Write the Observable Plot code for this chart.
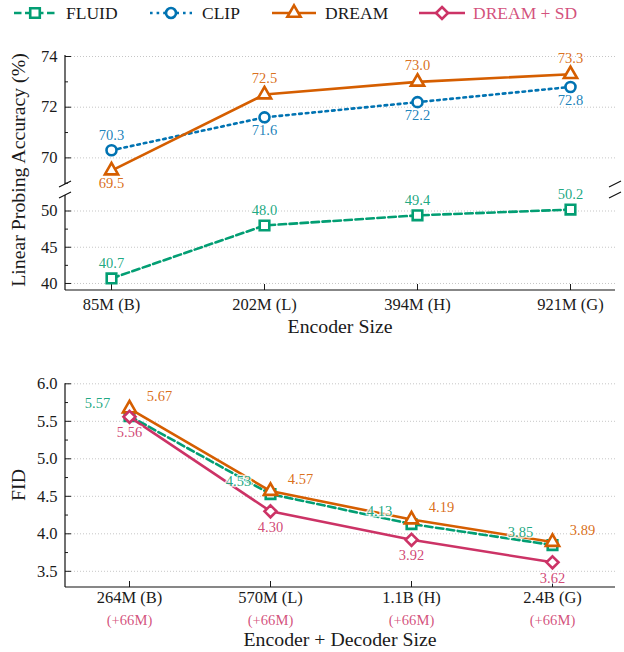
<!DOCTYPE html>
<html><head><meta charset="utf-8">
<script src="https://cdn.jsdelivr.net/npm/d3@7"></script>
<script src="https://cdn.jsdelivr.net/npm/@observablehq/plot@0.6"></script>
<style>
body{margin:0;background:#fff;}
#chart{position:relative;width:624px;height:652px;font-family:"Liberation Serif","Times New Roman",serif;color:#1a1a1a;overflow:hidden;background:#fff;}
#chart svg{position:absolute;left:0;}
.t{position:absolute;white-space:nowrap;line-height:1;transform:translate(-50%,-50%);}
</style></head><body><div id="chart"></div>
<script>
// ---------- data ----------
const encoderSizes = ["85M (B)", "202M (L)", "394M (H)", "921M (G)"];
const probeFluid = [40.7, 48.0, 49.4, 50.2];
const probeClip  = [70.3, 71.6, 72.2, 72.8];
const probeDream = [69.5, 72.5, 73.0, 73.3];

const encDecSizes  = ["264M (B)", "570M (L)", "1.1B (H)", "2.4B (G)"];
const decoderExtra = ["(+66M)", "(+66M)", "(+66M)", "(+66M)"];
const fidFluid   = [5.57, 4.53, 4.13, 3.85];
const fidDream   = [5.67, 4.57, 4.19, 3.89];
const fidDreamSD = [5.56, 4.30, 3.92, 3.62];

const upperTicks = [70, 72, 74];
const upperMinor = [69, 71, 73];
const lowerTicks = [40, 45, 50];
const lowerMinor = [42.5, 47.5];
const fidTicks = [3.5, 4.0, 4.5, 5.0, 5.5, 6.0];
const fidMinor = [3.75, 4.25, 4.75, 5.25, 5.75];

const legendNames = ["FLUID", "CLIP", "DREAM", "DREAM + SD"];

// ---------- styles ----------
const FONT = '"Liberation Serif","Times New Roman",serif';
const COL = {fluid: "#029E73", clip: "#0173B2", dream: "#D55E00", sd: "#CC3366"};
const LW = 2.6;
const S = {
  fluid: {color: COL.fluid, dash: "7.5,3.5", symbol: "square", r: 5.4},
  clip:  {color: COL.clip,  dash: "2.6,4",   symbol: "circle", r: 5},
  dream: {color: COL.dream, dash: null,      symbol: "triangle", r: 4.9},
  sd:    {color: COL.sd,    dash: null,      symbol: "diamond2", r: 5.4}
};
const baseStyle = {fontFamily: FONT, fontSize: "16.5px", color: "#1a1a1a", background: "transparent", overflow: "visible"};
const gridOpts = {stroke: "#999", strokeOpacity: 0.7, strokeDasharray: "1,2", strokeWidth: 0.8};

const rows = (cats, vals, digits) => cats.map((c, i) => ({x: c, y: vals[i], i, label: vals[i].toFixed(digits)}));

function seriesMarks(data, st) {
  const lineOpts = {x: "x", y: "y", stroke: st.color, strokeWidth: LW};
  if (st.dash) lineOpts.strokeDasharray = st.dash;
  return [
    Plot.line(data, lineOpts),
    Plot.dot(data, {x: "x", y: "y", symbol: st.symbol, r: st.r, stroke: st.color, strokeWidth: LW, fill: "white"})
  ];
}
function labelMark(data, st, opts) {
  return Plot.text(data, {x: "x", y: "y", text: "label", fill: st.color, fillOpacity: 0.9,
    stroke: "white", strokeOpacity: 0.75, strokeWidth: 3, fontSize: 14.5, lineAnchor: "middle", ...opts});
}

const chart = document.getElementById("chart");
const L = 65, R = 9; // frame left / right margins

function place(svg, top) { svg.style.top = top + "px"; chart.appendChild(svg); return svg; }
function spine(svg, x1, y1, x2, y2) {
  d3.select(svg).append("line").attr("x1", x1).attr("y1", y1).attr("x2", x2).attr("y2", y2)
    .attr("stroke", "#111").attr("stroke-width", 1.2);
}
function breakMark(svg, x, y) {
  d3.select(svg).append("line").attr("x1", x - 6).attr("y1", y + 3).attr("x2", x + 6).attr("y2", y - 3)
    .attr("stroke", "#111").attr("stroke-width", 1.2);
}

// ---------- panel A : upper part of broken axis ----------
const clipRows = rows(encoderSizes, probeClip, 1);
const dreamRows = rows(encoderSizes, probeDream, 1);
const fluidRows = rows(encoderSizes, probeFluid, 1);

const A_H = 170, A_MT = 25, A_MB = 16;
const A = Plot.plot({
  width: 624, height: A_H, marginTop: A_MT, marginBottom: A_MB, marginLeft: L, marginRight: R,
  style: baseStyle,
  x: {type: "point", domain: encoderSizes, padding: 0.286, axis: null},
  y: {domain: [68.95, 74.04], axis: null, label: null},
  marks: [
    Plot.gridY(upperTicks, gridOpts),
    Plot.axisY(upperMinor, {tickSize: -3, tickFormat: () => "", label: null}),
    Plot.axisY(upperTicks, {tickSize: -6, tickPadding: 14, tickFormat: d => String(d), label: null}),
    ...seriesMarks(clipRows, S.clip),
    ...seriesMarks(dreamRows, S.dream),
    labelMark(clipRows, S.clip, {filter: d => d.i === 0, dy: -15}),
    labelMark(clipRows, S.clip, {filter: d => d.i > 0, dy: 13}),
    labelMark(dreamRows, S.dream, {filter: d => d.i === 0, dy: 13}),
    labelMark(dreamRows, S.dream, {filter: d => d.i > 0, dy: -16})
  ]
});
place(A, 30);
spine(A, L, A_MT, L, A_H - A_MB);
breakMark(A, L, A_H - A_MB);
breakMark(A, 624 - R, A_H - A_MB);

// ---------- panel B : lower part of broken axis ----------
const B_H = 150, B_MT = 20, B_MB = 35;
const B = Plot.plot({
  width: 624, height: B_H, marginTop: B_MT, marginBottom: B_MB, marginLeft: L, marginRight: R,
  style: baseStyle,
  x: {type: "point", domain: encoderSizes, padding: 0.286, axis: null},
  y: {domain: [39.03, 52.14], axis: null, label: null},
  marks: [
    Plot.gridY(lowerTicks, gridOpts),
    Plot.axisY(lowerMinor, {tickSize: -3, tickFormat: () => "", label: null}),
    Plot.axisY(lowerTicks, {tickSize: -6, tickPadding: 14, tickFormat: d => String(d), label: null}),
    Plot.axisX({tickSize: -6, tickPadding: 13.4, label: null}),
    ...seriesMarks(fluidRows, S.fluid),
    labelMark(fluidRows, S.fluid, {dy: -15})
  ]
});
place(B, 175);
spine(B, L, B_MT, L, B_H - B_MB);
spine(B, L, B_H - B_MB, 624 - R, B_H - B_MB);
breakMark(B, L, B_MT);
breakMark(B, 624 - R, B_MT);

// ---------- panel C : FID ----------
const fFluid = rows(encDecSizes, fidFluid, 2);
const fDream = rows(encDecSizes, fidDream, 2);
const fSD = rows(encDecSizes, fidDreamSD, 2);
const extraRows = encDecSizes.map((c, i) => ({x: c, extra: decoderExtra[i]}));

const C_H = 300, C_MT = 33.3, C_MB = 63;
const C = Plot.plot({
  width: 624, height: C_H, marginTop: C_MT, marginBottom: C_MB, marginLeft: L, marginRight: R,
  style: baseStyle,
  x: {type: "point", domain: encDecSizes, padding: 0.437, axis: null},
  y: {domain: [3.284, 6.0], axis: null, label: null},
  marks: [
    Plot.gridY(fidTicks, gridOpts),
    Plot.axisY(fidMinor, {tickSize: -3, tickFormat: () => "", label: null}),
    Plot.axisY(fidTicks, {tickSize: -6, tickPadding: 14, tickFormat: d => d.toFixed(1), label: null}),
    Plot.axisX({tickSize: -6, tickPadding: 9.5, label: null}),
    Plot.text(extraRows, {x: "x", text: "extra", frameAnchor: "bottom", dy: 33, lineAnchor: "middle",
      fill: COL.sd, fillOpacity: 0.85, fontSize: 14.6}),
    ...seriesMarks(fFluid, S.fluid),
    ...seriesMarks(fDream, S.dream),
    ...seriesMarks(fSD, S.sd),
    labelMark(fFluid, S.fluid, {dx: -32, dy: -13}),
    labelMark(fDream, S.dream, {dx: 30, dy: -12}),
    labelMark(fSD, S.sd, {dy: 16})
  ]
});
place(C, 350);
spine(C, L, C_MT, L, C_H - C_MB);
spine(C, L, C_H - C_MB, 624 - R, C_H - C_MB);

// ---------- axis titles ----------
function title(text, x, y, rot) {
  const d = document.createElement("div");
  d.className = "t";
  d.textContent = text;
  d.style.left = x + "px"; d.style.top = y + "px";
  d.style.fontSize = "19.8px";
  if (rot) d.style.transform = "translate(-50%,-50%) rotate(-90deg)";
  chart.appendChild(d);
}
title("Linear Probing Accuracy (%)", 19, 170, true);
title("Encoder Size", 340, 327, false);
title("FID", 19, 485, true);
title("Encoder + Decoder Size", 340, 640, false);

// ---------- legend ----------
const leg = d3.select(chart).append("svg").attr("width", 624).attr("height", 30).style("top", "0px");
const symbolType = {square: d3.symbolSquare, circle: d3.symbolCircle, triangle: d3.symbolTriangle, diamond2: d3.symbolDiamond2};
const legendItems = [
  {st: S.fluid, x0: 14, x1: 56, tx: 66, txt: "#1a1a1a"},
  {st: S.clip, x0: 150, x1: 192, tx: 202, txt: "#1a1a1a"},
  {st: S.dream, x0: 272, x1: 316, tx: 325, txt: "#1a1a1a"},
  {st: S.sd, x0: 419, x1: 465, tx: 473, txt: COL.sd}
];
const LY = 13;
legendItems.forEach((it, k) => {
  const g = leg.append("g");
  const ln = g.append("line").attr("x1", it.x0).attr("x2", it.x1).attr("y1", LY).attr("y2", LY)
    .attr("stroke", it.st.color).attr("stroke-width", LW);
  if (it.st.dash) ln.attr("stroke-dasharray", it.st.dash);
  g.append("path").attr("d", d3.symbol(symbolType[it.st.symbol], Math.PI * it.st.r * it.st.r)())
    .attr("transform", `translate(${(it.x0 + it.x1) / 2},${LY})`)
    .attr("fill", "white").attr("stroke", it.st.color).attr("stroke-width", LW);
  g.append("text").attr("x", it.tx).attr("y", LY + 6).attr("font-family", FONT).attr("font-size", 17.5)
    .attr("fill", it.txt).attr("fill-opacity", k === 3 ? 0.85 : 1).text(legendNames[k]);
});
</script></body></html>
